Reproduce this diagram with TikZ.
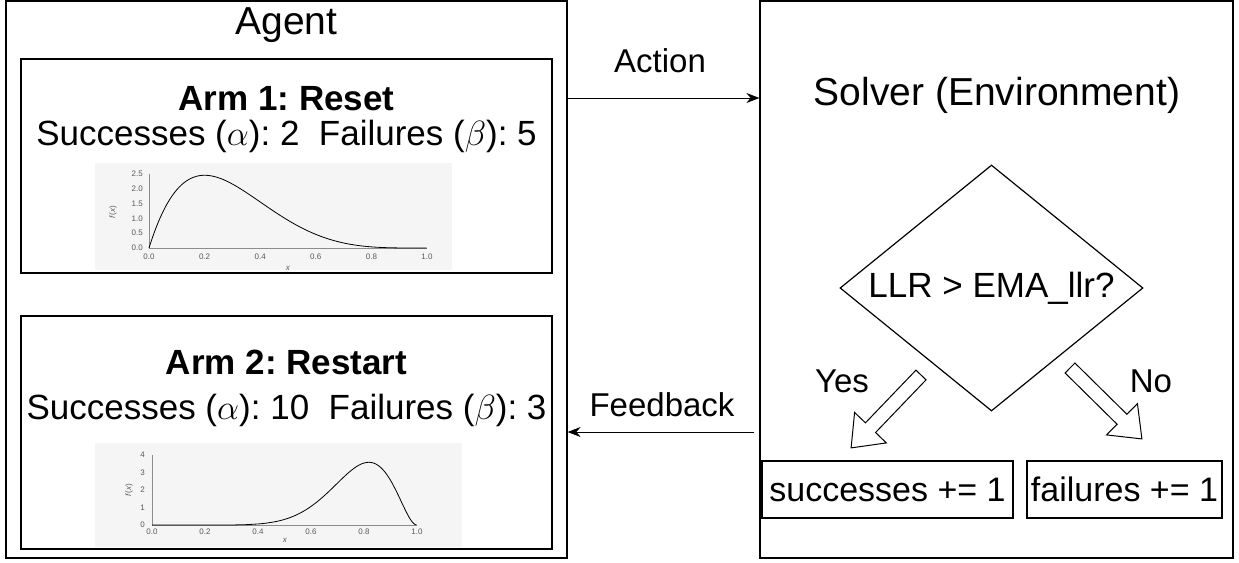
\documentclass[tikz,border=0pt]{standalone}
\usepackage{fix-cm}
\usepackage{fontspec}
\setmainfont{Liberation Sans}
\usetikzlibrary{shapes.geometric,arrows.meta}
\frenchspacing
\begin{document}
\frenchspacing
\begin{tikzpicture}[x=1pt,y=-1pt,
 box/.style={draw=black, line width=1.2pt, inner sep=0, fill=none},
 big/.style={font=\fontsize{39}{44}\selectfont, inner sep=0},
 body/.style={font=\fontsize{35}{40}\selectfont, inner sep=0},
 bodyb/.style={font=\fontsize{35}{40}\selectfont\bfseries, inner sep=0},
 lbl/.style={font=\fontsize{33}{36}\selectfont, inner sep=0},
 tick/.style={font=\fontsize{8}{9}\selectfont, text=black!65, inner sep=0},
 axisline/.style={draw=black!45, line width=0.6pt},
 curve/.style={draw=black, line width=0.8pt},
 plotbg/.style={fill=black!4, draw=none},
 flow/.style={draw=black, line width=1pt, -{Stealth[length=13pt,width=10pt]}},
 blockarrow/.pic={\draw[line width=1pt, fill=white] (0,-7) -- (73,-7) -- (73,-22) -- (101,0) -- (73,22) -- (73,7) -- (0,7) -- cycle;}
]
\useasboundingbox (0,0) rectangle (1239,562);

% Agent side
\node[box, minimum width=561, minimum height=557] (agent) at (286.5,279.5) {};
\node[big] (agentlbl) at (286.5,25) {Agent};

\node[box, minimum width=531, minimum height=214] (arm1) at (286.5,166) {};
\node[bodyb] (arm1t) at (286.5,99) {Arm 1: Reset};
\node[body] (arm1s) at (286.5,136) {Successes ($\alpha$): 2\ \ Failures ($\beta$): 5};

\node[box, minimum width=531, minimum height=233] (arm2) at (286.5,432.5) {};
\node[bodyb] (arm2t) at (286.5,362) {Arm 2: Restart};
\node[body] (arm2s) at (286.5,410) {Successes ($\alpha$): 10\ \ Failures ($\beta$): 3};

% plot 1 : Beta(2,5)
\begin{scope}
\clip (95,163) rectangle (452,270);
\fill[plotbg] (95,163) rectangle (452,270);
\draw[axisline] (149,174) -- (149,248) -- (427,248);
\draw[curve] plot[domain=0:1, samples=120, variable=\t] ({149+278*\t},{248-74/2.5*30*\t*(1-\t)^4});
\foreach \v [count=\i] in {0.0,0.2,0.4,0.6,0.8,1.0}
  \node[tick] (pax\i) at ({149+278*\v},257) {\v};
\foreach \v [count=\i] in {0.0,0.5,1.0,1.5,2.0,2.5}
  \node[tick, anchor=east] (pay\i) at (143,{248-74*\v/2.5}) {\v};
\node[tick, rotate=90] (pafx) at (113,212) {\textit{f}(\textit{x})};
\node[tick] (pax) at (288,268) {\textit{x}};
\end{scope}

% plot 2 : Beta(10,3)
\begin{scope}
\clip (95,443) rectangle (462,547);
\fill[plotbg] (95,443) rectangle (462,547);
\draw[axisline] (152,455) -- (152,525) -- (417,525);
\draw[curve] plot[domain=0:1, samples=150, variable=\t] ({152+265*\t},{525-70/4*660*\t^9*(1-\t)^2});
\foreach \v [count=\i] in {0.0,0.2,0.4,0.6,0.8,1.0}
  \node[tick] (pbx\i) at ({152+265*\v},532) {\v};
\foreach \v [count=\i] in {0,1,2,3,4}
  \node[tick, anchor=east] (pby\i) at (145,{525-70*\v/4}) {\v};
\node[tick, rotate=90] (pbfx) at (129,490) {\textit{f}(\textit{x})};
\node[tick] (pbx) at (285,540) {\textit{x}};
\end{scope}

% Solver side
\node[box, minimum width=473, minimum height=557] (solver) at (996.5,279.5) {};
\node[big] (solverlbl) at (997,95) {Solver (Environment)};
\node[box, diamond, minimum width=303, minimum height=246] (dec) at (991.5,288) {};
\node[body, font=\fontsize{35}{40}\selectfont] (declbl) at (dec.center) {LLR > EMA\_llr?};

\node[box, minimum width=251, minimum height=57, font=\fontsize{34}{40}\selectfont] (succ) at (887.5,489.5) {successes += 1};
\node[box, minimum width=195, minimum height=57, font=\fontsize{34}{40}\selectfont] (fail) at (1124.5,489.5) {failures += 1};

\pic[rotate=226.2] at (921,375) {blockarrow};
\pic[rotate=-44.6] at (1070,368) {blockarrow};
\node[lbl] (yes) at (842,381) {Yes};
\node[lbl] (no) at (1151,381) {No};

% connectors
\coordinate (ay) at (0,98);
\coordinate (fy) at (0,432);
\draw[flow] (agent.east |- ay) -- (solver.west |- ay);
\draw[flow] ([xshift=-5pt]solver.west |- fy) -- (agent.east |- fy);
\node[lbl] (action) at (660,61) {Action};
\node[lbl] (feedback) at (662,405) {Feedback};
\end{tikzpicture}
\end{document}
